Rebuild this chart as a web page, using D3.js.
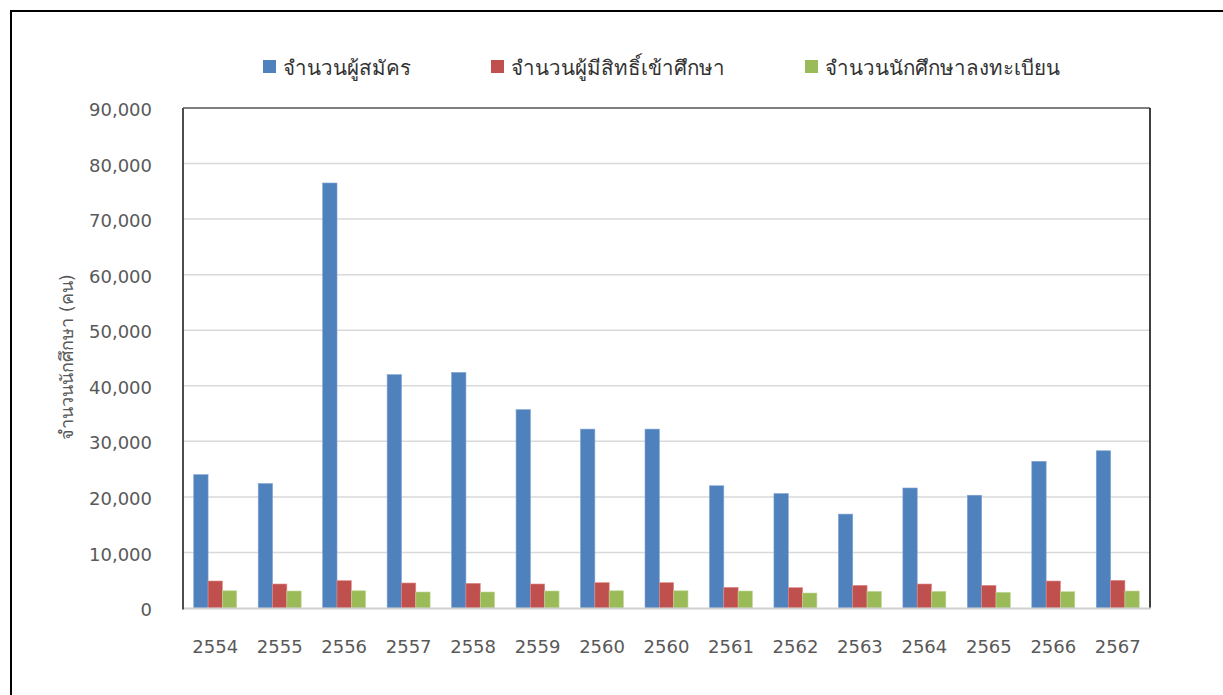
<!DOCTYPE html>
<html>
<head>
<meta charset="utf-8">
<script src="https://cdn.jsdelivr.net/npm/d3@7"></script>
<style>
  body { margin: 0; background: #fff; }
  svg { display: block; }
  text { font-family: "DejaVu Sans", "Noto Sans", sans-serif; }
</style>
</head>
<body>
<script>
// years (2560 appears twice in the source chart)
const years = ["2554", "2555", "2556", "2557", "2558", "2559", "2560", "2560",
  "2561", "2562", "2563", "2564", "2565", "2566", "2567"];

const applicants = [24000, 22400, 76500, 42000, 42400, 35700, 32200, 32200,
  22000, 20600, 16900, 21600, 20300, 26400, 28300];
const admitted = [4860, 4320, 4920, 4500, 4440, 4320, 4560, 4560,
  3720, 3660, 4080, 4320, 4080, 4860, 4980];
const enrolled = [3100, 3060, 3100, 2880, 2880, 3060, 3100, 3100,
  3060, 2700, 3000, 3000, 2820, 2940, 3060];

const seriesNames = ["จำนวนผู้สมัคร", "จำนวนผู้มีสิทธิ์เข้าศึกษา", "จำนวนนักศึกษาลงทะเบียน"];
const seriesColors = ["#4F81BD", "#C0504D", "#9BBB59"];
const seriesStroke = ["#7FA3D3", "#E08D8B", "#C3D89A"];
const yTicks = [0, 10000, 20000, 30000, 40000, 50000, 60000, 70000, 80000, 90000];

const W = 1223, H = 695;
const margin = { left: 183, right: 73, top: 108, bottom: 87 };
const plotW = W - margin.left - margin.right;
const plotH = H - margin.top - margin.bottom;

const svg = d3.select("body").append("svg")
  .attr("width", W)
  .attr("height", H);

// outer chart frame (runs off the right and bottom of the picture)
svg.append("rect")
  .attr("x", 11).attr("y", 11)
  .attr("width", 1400).attr("height", 900)
  .attr("fill", "none")
  .attr("stroke", "#000")
  .attr("stroke-width", 2);

const g = svg.append("g")
  .attr("transform", "translate(" + margin.left + "," + margin.top + ")");

const idx = d3.range(years.length);

const x = d3.scaleBand()
  .domain(idx)
  .range([0, plotW])
  .paddingInner(1.5 / 4.5)
  .paddingOuter(0.75 / 4.5);

const xs = d3.scaleBand()
  .domain([0, 1, 2])
  .range([0, x.bandwidth()]);

const y = d3.scaleLinear()
  .domain([0, 90000])
  .range([plotH, 0]);

// gridlines
g.selectAll("line.grid").data(yTicks.filter(function(d) { return d > 0 && d < 90000; }))
  .enter().append("line")
  .attr("class", "grid")
  .attr("x1", 0).attr("x2", plotW)
  .attr("y1", function(d) { return y(d); })
  .attr("y2", function(d) { return y(d); })
  .attr("stroke", "#D9D9D9")
  .attr("stroke-width", 1.5);

// bars
const series = [applicants, admitted, enrolled];
series.forEach(function(vals, s) {
  g.selectAll("rect.s" + s).data(vals)
    .enter().append("rect")
    .attr("class", "s" + s)
    .attr("x", function(d, i) { return x(i) + xs(s); })
    .attr("y", function(d) { return y(d); })
    .attr("width", xs.bandwidth())
    .attr("height", function(d) { return plotH - y(d); })
    .attr("fill", seriesColors[s])
    .attr("stroke", seriesStroke[s])
    .attr("stroke-width", 0.6);
});

// plot frame: top and right black, left axis dark, bottom axis light
g.append("line").attr("x1", 0).attr("x2", plotW).attr("y1", 0).attr("y2", 0)
  .attr("stroke", "#000").attr("stroke-width", 1.2);
g.append("line").attr("x1", plotW).attr("x2", plotW).attr("y1", 0).attr("y2", plotH)
  .attr("stroke", "#000").attr("stroke-width", 1.5);
g.append("line").attr("x1", 0).attr("x2", plotW + 1).attr("y1", plotH + 0.5).attr("y2", plotH + 0.5)
  .attr("stroke", "#D0D0D0").attr("stroke-width", 2);
g.append("line").attr("x1", 0).attr("x2", 0).attr("y1", 0).attr("y2", plotH + 1.5)
  .attr("stroke", "#4D4D4D").attr("stroke-width", 2);

// y axis labels
const yAxis = g.append("g")
  .call(d3.axisLeft(y).tickValues(yTicks).tickSize(0).tickPadding(31)
    .tickFormat(d3.format(",")));
yAxis.select(".domain").remove();
yAxis.selectAll("text")
  .attr("fill", "#595959")
  .style("font-size", "18px")
  .attr("dy", "0.42em");

// x axis labels
const xAxis = g.append("g")
  .attr("transform", "translate(0," + plotH + ")")
  .call(d3.axisBottom(x).tickSize(0).tickPadding(32)
    .tickFormat(function(i) { return years[i]; }));
xAxis.select(".domain").remove();
xAxis.selectAll("text")
  .attr("fill", "#595959")
  .style("font-size", "18px");

// y axis title
svg.append("text")
  .attr("transform", "translate(73,357) rotate(-90)")
  .attr("text-anchor", "middle")
  .attr("fill", "#595959")
  .style("font-size", "18px")
  .text("จำนวนนักศึกษา (คน)");

// legend
const legendX = [263, 491, 805];
const legend = svg.selectAll("g.legend").data(seriesNames)
  .enter().append("g")
  .attr("class", "legend")
  .attr("transform", function(d, i) { return "translate(" + legendX[i] + ",60)"; });
legend.append("rect")
  .attr("width", 13).attr("height", 13)
  .attr("fill", function(d, i) { return seriesColors[i]; });
legend.append("text")
  .attr("x", 20).attr("y", 15)
  .attr("fill", "#333333")
  .style("font-size", "20.5px")
  .text(function(d) { return d; });
</script>
</body>
</html>
